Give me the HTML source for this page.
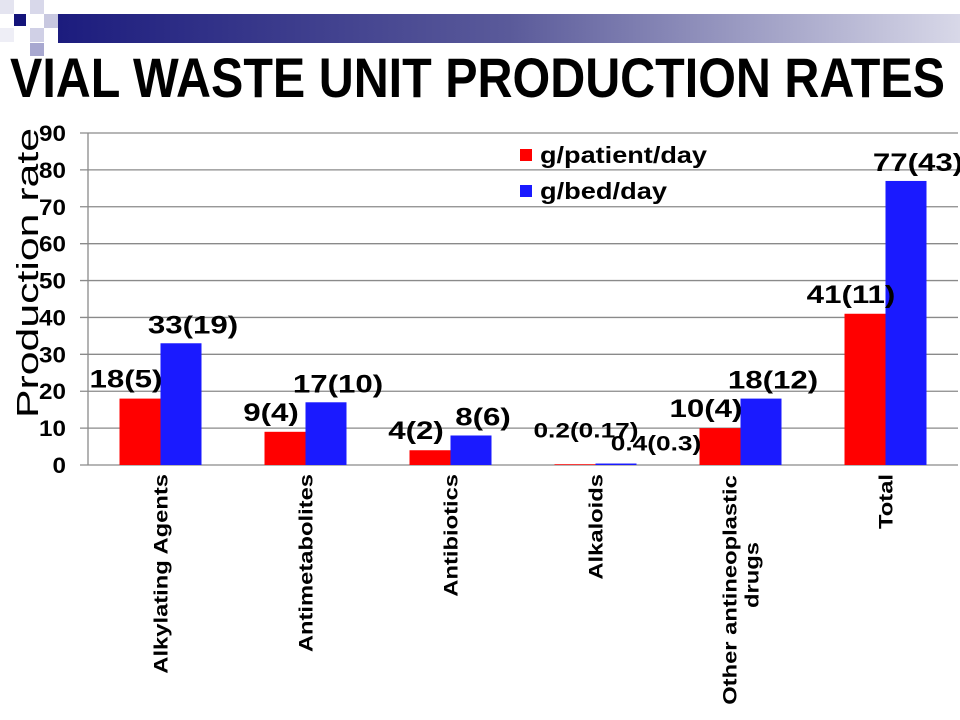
<!DOCTYPE html>
<html><head><meta charset="utf-8"><style>
body{margin:0;background:#fff;}
svg{display:block;font-family:"Liberation Sans",Arial,sans-serif;font-weight:bold;}
</style></head><body>
<svg id="c" width="960" height="720" viewBox="0 0 960 720">
<defs><linearGradient id="bg" x1="0" x2="1"><stop offset="0" stop-color="#1c1c7e"/><stop offset="0.5" stop-color="#5a5a9a"/><stop offset="1" stop-color="#d8d8e8"/></linearGradient></defs>
<g>
<rect x="58" y="14" width="902" height="29" fill="url(#bg)"/>
<rect x="0" y="0" width="14" height="14" fill="#e4e4f0"/>
<rect x="30" y="0" width="14" height="14" fill="#d8d8ea"/>
<rect x="44" y="14" width="14" height="14" fill="#c8c8e0"/>
<rect x="14" y="14" width="12" height="12" fill="#14147a"/>
<rect x="30" y="28" width="14" height="14" fill="#d0d0e6"/>
<rect x="0" y="28" width="14" height="14" fill="#eeeef6"/>
<rect x="30" y="43" width="14" height="13" fill="#a8a8d0"/>
</g>
<text x="10" y="97" font-size="56" textLength="935" lengthAdjust="spacingAndGlyphs">VIAL WASTE UNIT PRODUCTION RATES</text>
<g id="grid"></g><g id="bars"></g><g id="labels"></g>
<text transform="translate(38,273) rotate(-90)" text-anchor="middle" font-size="31" font-weight="normal" textLength="290" lengthAdjust="spacingAndGlyphs">Production rate</text>
<g>
<rect x="520" y="149" width="12" height="12" fill="#ff0000"/>
<text x="540" y="163" font-size="23" textLength="167" lengthAdjust="spacingAndGlyphs">g/patient/day</text>
<rect x="520" y="185" width="12" height="12" fill="#1a1aff"/>
<text x="540" y="199" font-size="23" textLength="127" lengthAdjust="spacingAndGlyphs">g/bed/day</text>
</g>
</svg>
<script>
const categories=[["Alkylating Agents"],["Antimetabolites"],["Antibiotics"],["Alkaloids"],["Other antineoplastic","drugs"],["Total"]];
const patientValues=[18,9,4,0.2,10,41];
const bedValues=[33,17,8,0.4,18,77];
const patientLabels=["18(5)","9(4)","4(2)","0.2(0.17)","10(4)","41(11)"];
const bedLabels=["33(19)","17(10)","8(6)","0.4(0.3)","18(12)","77(43)"];
const yTicks=[0,10,20,30,40,50,60,70,80,90];
const NS="http://www.w3.org/2000/svg";
const X0=88,X1=958,Y0=465,Y90=133,BW=41;
const y=v=>Y0-(v/90)*(Y0-Y90);
const cx=i=>X0+(i+0.5)*(X1-X0)/categories.length;
function mk(t,a,p){const e=document.createElementNS(NS,t);for(const k in a)e.setAttribute(k,a[k]);p.appendChild(e);return e;}
function stretch(e,f){const L=e.getComputedTextLength();e.setAttribute('textLength',L*f);e.setAttribute('lengthAdjust','spacingAndGlyphs');}
const grid=document.getElementById('grid'),bars=document.getElementById('bars'),labels=document.getElementById('labels');
yTicks.forEach(t=>{
 const l=mk('line',{x1:80,x2:X1,y1:y(t),y2:y(t),stroke:'#8a8a8a','stroke-width':1.3},grid);
 
 
 const tx=mk('text',{x:66,y:y(t)+8,'text-anchor':'end','font-size':22},grid);tx.textContent=t;
 
 
 stretch(tx,1.1);
});
const ax=mk('line',{x1:X0,x2:X0,y1:Y90,y2:Y0,stroke:'#8a8a8a','stroke-width':1.3},grid);


categories.forEach((c,i)=>{
 const c0=cx(i);
 const r=mk('rect',{x:c0-BW,y:y(patientValues[i]),width:BW,height:Y0-y(patientValues[i]),fill:'#ff0000'},bars);
 
 
 const b=mk('rect',{x:c0,y:y(bedValues[i]),width:BW,height:Y0-y(bedValues[i]),fill:'#1a1aff'},bars);
 
 
 const small=patientValues[i]<1;
 const pl=mk('text',{x:c0-BW/2-(small?-11:14),y:y(patientValues[i])-(small?27:11),'text-anchor':'middle','font-size':small?21:25},labels);pl.textContent=patientLabels[i];
 
 
 stretch(pl,1.25);
 const bl=mk('text',{x:c0+BW/2+(small?40:12),y:y(bedValues[i])-(small?13:10),'text-anchor':'middle','font-size':small?21:25},labels);bl.textContent=bedLabels[i];
 
 
 stretch(bl,1.25);
 const n=c.length;
 c.forEach((line,j)=>{
  const t=mk('text',{transform:`translate(${c0+7},474) rotate(-90)`,'text-anchor':'end','font-size':19},labels);
  if(n>1)t.setAttribute('transform',`translate(${c0+7+(j-(n-1)/2)*22},${j==0?590:575}) rotate(-90)`);
  if(n>1)t.setAttribute('text-anchor','middle');
  t.textContent=line;
  
  
  stretch(t,1.25);
 });
});
</script>
</body></html>
